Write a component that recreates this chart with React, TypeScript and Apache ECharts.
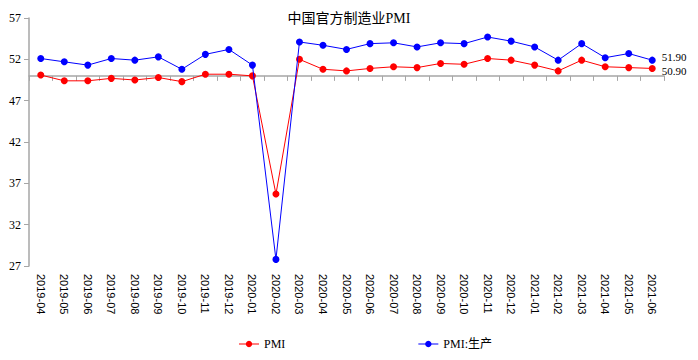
import React, { useEffect, useRef } from "react";
import * as echarts from "echarts";

const categories = [
  "2019-04", "2019-05", "2019-06", "2019-07", "2019-08", "2019-09", "2019-10", "2019-11", "2019-12",
  "2020-01", "2020-02", "2020-03", "2020-04", "2020-05", "2020-06", "2020-07", "2020-08", "2020-09",
  "2020-10", "2020-11", "2020-12", "2021-01", "2021-02", "2021-03", "2021-04", "2021-05", "2021-06",
];

const pmi = [
  50.1, 49.4, 49.4, 49.7, 49.5, 49.8, 49.3, 50.2, 50.2,
  50.0, 35.7, 52.0, 50.8, 50.6, 50.9, 51.1, 51.0, 51.5,
  51.4, 52.1, 51.9, 51.3, 50.6, 51.9, 51.1, 51.0, 50.9,
];

const pmiProduction = [
  52.1, 51.7, 51.3, 52.1, 51.9, 52.3, 50.8, 52.6, 53.2,
  51.3, 27.8, 54.1, 53.7, 53.2, 53.9, 54.0, 53.5, 54.0,
  53.9, 54.7, 54.2, 53.5, 51.9, 53.9, 52.2, 52.7, 51.9,
];

const seriesNames = ["PMI", "PMI:生产"];
const titleText = "中国官方制造业PMI";
const yMin = 27;
const yMax = 57;
const yInterval = 5;
const baseline = 50;

const SERIF = "'Liberation Serif', 'Noto Sans CJK SC', serif";

const GRID = { left: 29, right: 34, top: 18, bottom: 94 };
const H = 360;

function withLastLabel(values: number[], dy: number) {
  return values.map((v, i) =>
    i === values.length - 1
      ? { value: v, label: { show: true, offset: [0, dy] } }
      : v
  );
}

export default function App() {
  const ref = useRef<HTMLDivElement>(null);
  useEffect(() => {
    if (!ref.current) return;
    const chart = echarts.init(ref.current, undefined, { renderer: "svg" });
    const gridHeight = H - GRID.top - GRID.bottom;
    const baselineOffset = -(gridHeight * (baseline - yMin)) / (yMax - yMin);
    const labelCfg = {
      show: false,
      position: "right",
      distance: 6,
      fontFamily: SERIF,
      fontSize: 11,
      lineHeight: 11,
      color: "#000",
      formatter: (p: any) => Number(p.value).toFixed(2),
    };
    chart.setOption({
      animation: false,
      backgroundColor: "#fff",
      title: {
        text: titleText,
        left: "center",
        top: 6,
        textStyle: { fontFamily: SERIF, fontSize: 14, fontWeight: "normal", color: "#000" },
      },
      legend: {
        data: seriesNames,
        left: 233,
        top: 333,
        itemWidth: 20,
        itemHeight: 8,
        itemGap: 132,
        lineStyle: { opacity: 0.5 },
        textStyle: { fontFamily: SERIF, fontSize: 12, color: "#000" },
      },
      grid: { ...GRID, containLabel: false, outerBoundsMode: "none" },
      xAxis: [
        {
          type: "category",
          data: categories,
          boundaryGap: true,
          axisLine: { show: false },
          axisTick: { show: false },
          axisLabel: {
            rotate: -90,
            interval: 0,
            margin: 8,
            fontFamily: "'Liberation Sans', Arial, sans-serif",
            fontSize: 11,
            color: "#000",
          },
          splitLine: { show: false },
        },
        {
          type: "category",
          data: categories,
          position: "bottom",
          offset: baselineOffset,
          boundaryGap: true,
          axisLine: { show: true, onZero: false, lineStyle: { color: "#a6a6a6", width: 1.5 } },
          axisTick: { show: true, length: 5, interval: 0, lineStyle: { color: "#a6a6a6" } },
          axisLabel: { show: false },
          splitLine: { show: false },
        },
      ],
      yAxis: {
        type: "value",
        min: yMin,
        max: yMax,
        interval: yInterval,
        axisLine: { show: true, lineStyle: { color: "#a6a6a6", width: 1.5 } },
        axisTick: { show: true, length: 5, lineStyle: { color: "#a6a6a6" } },
        axisLabel: { margin: 8, fontFamily: SERIF, fontSize: 12, color: "#000" },
        splitLine: { show: false },
      },
      series: [
        {
          name: seriesNames[0],
          type: "line",
          xAxisIndex: 0,
          data: withLastLabel(pmi, 3),
          symbol: "circle",
          symbolSize: 7,
          itemStyle: { color: "#ff0000" },
          lineStyle: { color: "#ff0000", width: 1 },
          label: labelCfg,
          z: 3,
        },
        {
          name: seriesNames[1],
          type: "line",
          xAxisIndex: 0,
          data: withLastLabel(pmiProduction, -3),
          symbol: "circle",
          symbolSize: 7,
          itemStyle: { color: "#0000ff" },
          lineStyle: { color: "#0000ff", width: 1 },
          label: labelCfg,
          z: 4,
        },
      ],
    });
    return () => chart.dispose();
  }, []);
  return (
    <div
      ref={ref}
      style={{ position: "absolute", left: 0, top: 0, width: 698, height: 360 }}
    />
  );
}
